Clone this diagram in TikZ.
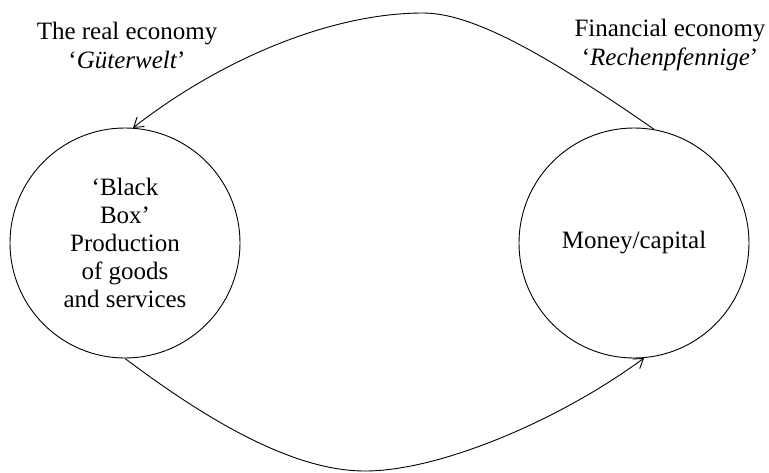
\documentclass[tikz,border=0pt]{standalone}
\usepackage{fontspec}
\setmainfont{Liberation Serif}
\usetikzlibrary{arrows.meta}
\begin{document}
\begin{tikzpicture}[x=1pt, y=-1pt,
    bubble/.style={circle, draw, line width=0.9pt, minimum size=230pt, inner sep=0pt, align=center, font=\fontsize{25}{28}\selectfont},
    heading/.style={align=center, font=\fontsize{25}{29}\selectfont},
    flow/.style={line width=0.9pt, -{Straight Barb[length=9pt, width=12pt]}}]
    \useasboundingbox (0,0) rectangle (769,472);

    % Circles
    \node[bubble] (prod) at (125,243) {`Black\\Box'\\Production\\of goods\\and services};
    \node[bubble] (money) at (634,243) {Money/capital};

    % Labels over the circles
    \node[heading] (real) at (127,45) {The real economy\\`\textit{Güterwelt}'};
    \node[heading] (fin) at (670,45) {Financial economy\\`\textit{Rechenpfennige}'};

    % Flows
    \draw[flow] (money.80) .. controls (540,50) and (470,13) .. (423,13) .. controls (330,13) and (220,60) .. (prod.86);
    \draw[flow] (prod.270) .. controls (220,430) and (300,471) .. (365,471) .. controls (440,471) and (560,420) .. (money.-85);
\end{tikzpicture}
\end{document}
